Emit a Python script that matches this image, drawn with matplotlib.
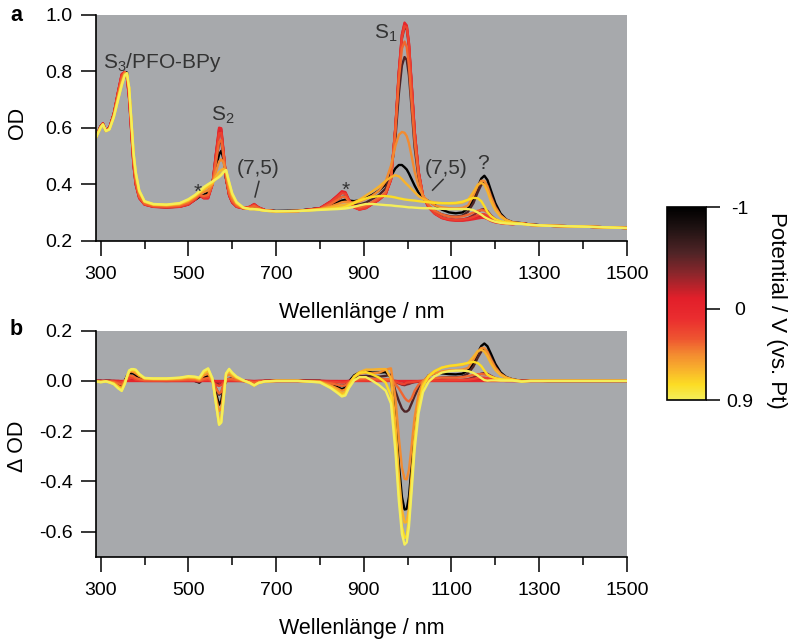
import numpy as np
import matplotlib.pyplot as plt
from matplotlib.colors import LinearSegmentedColormap, Normalize
from matplotlib.cm import ScalarMappable
from matplotlib.ticker import MultipleLocator

plt.rcParams['font.family'] = ['Liberation Sans', 'DejaVu Sans']
plt.rcParams['mathtext.fontset'] = 'custom'
plt.rcParams['mathtext.rm'] = 'Liberation Sans'
plt.rcParams['mathtext.it'] = 'Liberation Sans:italic'
plt.rcParams['axes.unicode_minus'] = False

# wavelength grid (nm)
wl = [290, 300, 305, 312, 320, 330, 340, 348, 355, 360,
      365, 370, 375, 380, 388, 400, 420, 450, 480, 500,
      515, 525, 535, 545, 555, 563, 570, 575, 580, 586,
      593, 600, 610, 625, 640, 650, 660, 675, 700, 750,
      800, 825, 840, 850, 858, 866, 878, 890, 905, 920,
      935, 950, 962, 972, 980, 987, 993, 998, 1003, 1009,
      1016, 1025, 1035, 1048, 1062, 1078, 1095, 1110, 1125, 1138,
      1150, 1160, 1168, 1175, 1182, 1190, 1200, 1212, 1225, 1240,
      1260, 1280, 1320, 1400, 1500]

# OD spectra at each potential (V vs. Pt)
od_m100 = [0.570, 0.605, 0.613, 0.590, 0.600, 0.648, 0.718, 0.770, 0.797, 0.795,
           0.730, 0.610, 0.495, 0.418, 0.360, 0.333, 0.323, 0.320, 0.323, 0.333,
           0.345, 0.355, 0.362, 0.372, 0.405, 0.460, 0.505, 0.518, 0.490, 0.420,
           0.368, 0.345, 0.328, 0.317, 0.315, 0.316, 0.313, 0.308, 0.305, 0.306,
           0.315, 0.325, 0.335, 0.342, 0.345, 0.342, 0.340, 0.343, 0.352, 0.363,
           0.378, 0.400, 0.428, 0.456, 0.468, 0.468, 0.460, 0.452, 0.438, 0.418,
           0.395, 0.370, 0.352, 0.340, 0.326, 0.310, 0.300, 0.297, 0.300, 0.315,
           0.345, 0.390, 0.420, 0.430, 0.415, 0.378, 0.333, 0.296, 0.275, 0.265,
           0.262, 0.257, 0.253, 0.250, 0.245]
od_m055 = [0.570, 0.605, 0.614, 0.590, 0.600, 0.648, 0.722, 0.775, 0.797, 0.788,
           0.720, 0.600, 0.482, 0.410, 0.356, 0.331, 0.322, 0.319, 0.322, 0.331,
           0.345, 0.357, 0.357, 0.362, 0.405, 0.480, 0.545, 0.550, 0.500, 0.418,
           0.363, 0.340, 0.325, 0.316, 0.317, 0.321, 0.315, 0.308, 0.305, 0.306,
           0.315, 0.332, 0.345, 0.355, 0.356, 0.342, 0.330, 0.328, 0.335, 0.348,
           0.362, 0.385, 0.440, 0.560, 0.720, 0.820, 0.850, 0.840, 0.785, 0.670,
           0.530, 0.420, 0.355, 0.322, 0.305, 0.293, 0.287, 0.285, 0.289, 0.303,
           0.333, 0.372, 0.398, 0.408, 0.395, 0.362, 0.322, 0.290, 0.272, 0.264,
           0.262, 0.257, 0.253, 0.250, 0.245]
od_m035 = [0.570, 0.605, 0.615, 0.590, 0.600, 0.650, 0.728, 0.785, 0.797, 0.778,
           0.705, 0.585, 0.468, 0.400, 0.352, 0.329, 0.321, 0.318, 0.321, 0.329,
           0.345, 0.360, 0.352, 0.353, 0.402, 0.505, 0.585, 0.585, 0.515, 0.420,
           0.361, 0.336, 0.321, 0.315, 0.319, 0.328, 0.317, 0.308, 0.304, 0.305,
           0.315, 0.338, 0.357, 0.370, 0.368, 0.344, 0.320, 0.313, 0.318, 0.332,
           0.347, 0.365, 0.418, 0.595, 0.790, 0.915, 0.955, 0.948, 0.888, 0.752,
           0.585, 0.442, 0.358, 0.318, 0.297, 0.283, 0.276, 0.274, 0.275, 0.280,
           0.290, 0.302, 0.310, 0.312, 0.305, 0.290, 0.276, 0.267, 0.262, 0.260,
           0.262, 0.257, 0.253, 0.250, 0.245]
od_m015 = [0.570, 0.605, 0.615, 0.590, 0.600, 0.650, 0.730, 0.788, 0.797, 0.776,
           0.702, 0.582, 0.466, 0.399, 0.351, 0.328, 0.320, 0.318, 0.320, 0.328,
           0.345, 0.361, 0.351, 0.351, 0.401, 0.508, 0.595, 0.594, 0.518, 0.420,
           0.360, 0.335, 0.320, 0.315, 0.320, 0.329, 0.318, 0.308, 0.304, 0.305,
           0.315, 0.339, 0.359, 0.373, 0.370, 0.345, 0.319, 0.311, 0.316, 0.331,
           0.346, 0.365, 0.416, 0.600, 0.798, 0.928, 0.968, 0.960, 0.898, 0.758,
           0.588, 0.444, 0.359, 0.318, 0.296, 0.281, 0.274, 0.272, 0.272, 0.275,
           0.280, 0.285, 0.288, 0.288, 0.283, 0.274, 0.267, 0.263, 0.260, 0.259,
           0.262, 0.256, 0.253, 0.250, 0.245]
od_000 = [0.570, 0.605, 0.615, 0.590, 0.600, 0.650, 0.730, 0.790, 0.797, 0.775,
          0.700, 0.580, 0.465, 0.398, 0.350, 0.328, 0.320, 0.318, 0.320, 0.328,
          0.345, 0.362, 0.350, 0.350, 0.400, 0.510, 0.600, 0.598, 0.520, 0.420,
          0.360, 0.335, 0.320, 0.315, 0.320, 0.330, 0.318, 0.308, 0.304, 0.305,
          0.315, 0.340, 0.360, 0.375, 0.372, 0.345, 0.318, 0.310, 0.315, 0.330,
          0.345, 0.365, 0.415, 0.600, 0.800, 0.930, 0.972, 0.962, 0.900, 0.760,
          0.590, 0.445, 0.360, 0.318, 0.295, 0.280, 0.273, 0.271, 0.271, 0.273,
          0.276, 0.279, 0.281, 0.281, 0.277, 0.270, 0.265, 0.262, 0.260, 0.259,
          0.262, 0.256, 0.253, 0.250, 0.245]
od_p020 = [0.570, 0.604, 0.614, 0.589, 0.599, 0.648, 0.726, 0.785, 0.797, 0.780,
           0.710, 0.592, 0.475, 0.403, 0.353, 0.329, 0.321, 0.319, 0.321, 0.330,
           0.347, 0.362, 0.353, 0.355, 0.398, 0.495, 0.580, 0.582, 0.515, 0.422,
           0.363, 0.338, 0.321, 0.315, 0.319, 0.327, 0.317, 0.308, 0.304, 0.305,
           0.314, 0.336, 0.355, 0.368, 0.366, 0.343, 0.318, 0.311, 0.317, 0.332,
           0.347, 0.366, 0.417, 0.598, 0.792, 0.918, 0.960, 0.955, 0.894, 0.755,
           0.587, 0.444, 0.360, 0.319, 0.297, 0.282, 0.276, 0.274, 0.275, 0.278,
           0.284, 0.290, 0.294, 0.294, 0.288, 0.277, 0.268, 0.263, 0.260, 0.259,
           0.262, 0.256, 0.253, 0.250, 0.245]
od_p035 = [0.569, 0.603, 0.613, 0.589, 0.598, 0.646, 0.720, 0.775, 0.797, 0.786,
           0.722, 0.600, 0.483, 0.410, 0.357, 0.331, 0.323, 0.321, 0.324, 0.334,
           0.350, 0.363, 0.358, 0.362, 0.400, 0.480, 0.550, 0.555, 0.505, 0.425,
           0.368, 0.342, 0.324, 0.315, 0.317, 0.323, 0.315, 0.307, 0.304, 0.305,
           0.312, 0.330, 0.345, 0.355, 0.355, 0.338, 0.322, 0.318, 0.324, 0.338,
           0.352, 0.372, 0.422, 0.588, 0.770, 0.880, 0.905, 0.885, 0.818, 0.690,
           0.550, 0.430, 0.360, 0.325, 0.306, 0.293, 0.286, 0.284, 0.286, 0.292,
           0.300, 0.306, 0.308, 0.307, 0.300, 0.288, 0.275, 0.266, 0.261, 0.259,
           0.261, 0.256, 0.253, 0.250, 0.245]
od_p045 = [0.568, 0.602, 0.612, 0.588, 0.596, 0.642, 0.710, 0.762, 0.792, 0.790,
           0.735, 0.618, 0.500, 0.428, 0.370, 0.337, 0.327, 0.324, 0.328, 0.340,
           0.355, 0.366, 0.372, 0.378, 0.400, 0.445, 0.480, 0.488, 0.478, 0.440,
           0.385, 0.352, 0.330, 0.316, 0.313, 0.314, 0.311, 0.306, 0.304, 0.305,
           0.312, 0.322, 0.330, 0.336, 0.338, 0.335, 0.334, 0.338, 0.348, 0.360,
           0.378, 0.410, 0.465, 0.535, 0.575, 0.585, 0.582, 0.570, 0.545, 0.500,
           0.445, 0.392, 0.358, 0.338, 0.325, 0.318, 0.315, 0.314, 0.316, 0.325,
           0.360, 0.395, 0.412, 0.412, 0.392, 0.355, 0.318, 0.290, 0.274, 0.265,
           0.261, 0.256, 0.253, 0.250, 0.245]
od_p060 = [0.568, 0.601, 0.612, 0.588, 0.595, 0.640, 0.706, 0.758, 0.790, 0.792,
           0.738, 0.622, 0.505, 0.435, 0.374, 0.338, 0.328, 0.326, 0.330, 0.342,
           0.358, 0.370, 0.380, 0.390, 0.402, 0.428, 0.443, 0.450, 0.455, 0.445,
           0.398, 0.360, 0.333, 0.316, 0.312, 0.312, 0.310, 0.306, 0.304, 0.305,
           0.311, 0.318, 0.323, 0.326, 0.328, 0.330, 0.336, 0.345, 0.360, 0.375,
           0.392, 0.412, 0.425, 0.432, 0.428, 0.418, 0.408, 0.400, 0.393, 0.383,
           0.372, 0.358, 0.348, 0.340, 0.335, 0.333, 0.332, 0.332, 0.335, 0.345,
           0.372, 0.398, 0.405, 0.398, 0.375, 0.340, 0.308, 0.285, 0.272, 0.264,
           0.261, 0.256, 0.253, 0.250, 0.245]
od_p075 = [0.568, 0.600, 0.611, 0.588, 0.594, 0.638, 0.702, 0.752, 0.786, 0.792,
           0.740, 0.625, 0.510, 0.440, 0.376, 0.339, 0.329, 0.327, 0.332, 0.345,
           0.360, 0.372, 0.385, 0.398, 0.407, 0.418, 0.428, 0.435, 0.445, 0.450,
           0.405, 0.365, 0.335, 0.317, 0.312, 0.312, 0.310, 0.306, 0.304, 0.305,
           0.310, 0.313, 0.315, 0.317, 0.320, 0.325, 0.333, 0.342, 0.350, 0.355,
           0.358, 0.358, 0.356, 0.353, 0.350, 0.348, 0.346, 0.345, 0.344, 0.343,
           0.342, 0.340, 0.338, 0.336, 0.334, 0.333, 0.333, 0.334, 0.338, 0.345,
           0.352, 0.350, 0.340, 0.322, 0.302, 0.287, 0.276, 0.269, 0.265, 0.262,
           0.260, 0.256, 0.253, 0.250, 0.245]
od_p090 = [0.567, 0.600, 0.611, 0.588, 0.594, 0.637, 0.700, 0.750, 0.785, 0.793,
           0.742, 0.627, 0.512, 0.443, 0.378, 0.340, 0.330, 0.328, 0.333, 0.347,
           0.362, 0.375, 0.390, 0.400, 0.410, 0.418, 0.425, 0.432, 0.442, 0.450,
           0.408, 0.368, 0.337, 0.318, 0.312, 0.312, 0.310, 0.306, 0.304, 0.305,
           0.309, 0.311, 0.312, 0.313, 0.314, 0.316, 0.320, 0.325, 0.330, 0.330,
           0.328, 0.326, 0.325, 0.323, 0.322, 0.321, 0.320, 0.319, 0.318, 0.318,
           0.317, 0.316, 0.315, 0.315, 0.314, 0.313, 0.312, 0.312, 0.312, 0.312,
           0.308, 0.300, 0.292, 0.284, 0.278, 0.272, 0.267, 0.263, 0.261, 0.260,
           0.259, 0.256, 0.253, 0.250, 0.245]

potentials = [-1.0, -0.55, -0.35, -0.15, 0.0, 0.2, 0.35, 0.45, 0.6, 0.75, 0.9]
spectra = [od_m100, od_m055, od_m035, od_m015, od_000, od_p020,
           od_p035, od_p045, od_p060, od_p075, od_p090]
reference = od_000  # 0 V spectrum used for the difference spectra

pot_nodes = [-1.0, -0.8, -0.55, -0.35, -0.1, 0.1, 0.3, 0.45, 0.6, 0.75, 0.9]
pot_colors = ['#000000', '#1e1212', '#4f2426', '#8a262b', '#e21f2a', '#ea2d2f',
              '#ee5530', '#f38a30', '#f8b12c', '#fcdc24', '#f4ee5a']

vmin, vmax = -1.0, 0.9
cmap = LinearSegmentedColormap.from_list(
    'pot', [((p - vmin) / (vmax - vmin), c) for p, c in zip(pot_nodes, pot_colors)])
norm = Normalize(vmin=vmin, vmax=vmax)

bg = '#a7a9ac'
fs = 14      # tick labels
fs_lab = 15.5  # axis labels
fs_ann = 15  # annotations

fig = plt.figure(figsize=(7.92, 6.39), dpi=100)
ax_a = fig.add_axes([0.1208, 0.6233, 0.6707, 0.3537])
ax_b = fig.add_axes([0.1208, 0.1288, 0.6707, 0.3537])

wl_arr = np.array(wl)
ref = np.array(reference)
for pot, od in zip(potentials, spectra):
    col = cmap(norm(pot))
    ax_a.plot(wl_arr, od, color=col, lw=1.7, solid_joinstyle='round')
    ax_b.plot(wl_arr, np.array(od) - ref, color=col, lw=1.7, solid_joinstyle='round')

for ax in (ax_a, ax_b):
    ax.set_facecolor(bg)
    ax.spines['top'].set_visible(False)
    ax.spines['right'].set_visible(False)
    ax.spines['left'].set_linewidth(1.2)
    ax.spines['bottom'].set_linewidth(1.2)
    ax.set_xlim(288.6, 1500)
    ax.set_xticks([300, 500, 700, 900, 1100, 1300, 1500])
    ax.xaxis.set_minor_locator(MultipleLocator(100))
    ax.tick_params(which='major', length=11, width=1.1, labelsize=fs)
    ax.tick_params(axis='x', which='major', pad=7.5)
    ax.tick_params(axis='y', which='major', pad=5.5)
    ax.tick_params(which='minor', length=6, width=1.1)
    ax.set_xlabel('Wellenlänge / nm', fontsize=fs_lab)
    ax.xaxis.set_label_coords(0.5, -0.342)
    ax.xaxis.label.set_va('baseline')

ax_a.set_ylim(0.2, 1.0)
ax_a.set_yticks([0.2, 0.4, 0.6, 0.8, 1.0])
ax_a.set_yticklabels(['0.2', '0.4', '0.6', '0.8', '1.0'])
ax_a.set_ylabel('OD', fontsize=fs_lab)
ax_a.yaxis.set_label_coords(-0.128, 0.52)

ax_b.set_ylim(-0.7, 0.2)
ax_b.set_yticks([-0.6, -0.4, -0.2, 0.0, 0.2])
ax_b.set_yticklabels(['-0.6', '-0.4', '-0.2', '0.0', '0.2'])
ax_b.set_ylabel('Δ OD', fontsize=fs_lab)
ax_b.yaxis.set_label_coords(-0.128, 0.49)

# annotations
tc = '#333333'
ax_a.text(305, 0.83, 'S$_3$/PFO-BPy', fontsize=fs_ann, color=tc, ha='left', va='center')
ax_a.text(578, 0.645, 'S$_2$', fontsize=fs_ann, color=tc, ha='center', va='center')
ax_a.text(660, 0.457, '(7,5)', fontsize=fs_ann, color=tc, ha='center', va='center')
ax_a.plot([661, 652], [0.41, 0.355], color=tc, lw=1.1)
ax_a.text(521, 0.37, '*', fontsize=fs_ann, color=tc, ha='center', va='center')
ax_a.text(858, 0.38, '*', fontsize=fs_ann, color=tc, ha='center', va='center')
ax_a.text(951, 0.935, 'S$_1$', fontsize=fs_ann, color=tc, ha='center', va='center')
ax_a.text(1087, 0.457, '(7,5)', fontsize=fs_ann, color=tc, ha='center', va='center')
ax_a.plot([1081, 1057], [0.417, 0.379], color=tc, lw=1.1)
ax_a.text(1172, 0.475, '?', fontsize=fs_ann, color=tc, ha='center', va='center')

fig.text(0.0208, 0.975, 'a', fontsize=fs_lab, fontweight='bold', ha='center', va='center')
fig.text(0.0208, 0.4836, 'b', fontsize=fs_lab, fontweight='bold', ha='center', va='center')

# colour bar
cax = fig.add_axes([0.8422, 0.374, 0.0492, 0.302])
sm = ScalarMappable(norm=norm, cmap=cmap)
cb = fig.colorbar(sm, cax=cax, ticks=[-1, 0, 0.9])
cb.ax.invert_yaxis()
cb.ax.set_yticklabels(['-1', '0', '0.9'])
cb.outline.set_linewidth(1.2)
cb.ax.tick_params(length=10, width=1.1, labelsize=fs, pad=14.4)
for lbl in cb.ax.get_yticklabels():
    lbl.set_ha('center')
fig.text(777 / 792, 1 - 310 / 639, 'Potential / V (vs. Pt)', fontsize=16,
         rotation=270, ha='center', va='center')

fig.savefig('out.png', dpi=100)
